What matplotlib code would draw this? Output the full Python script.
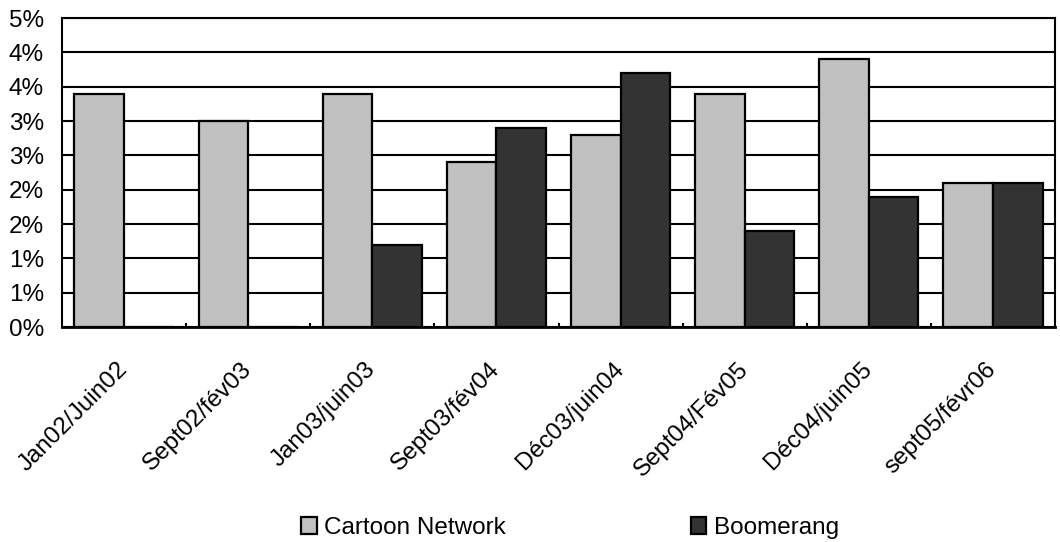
import math
import numpy as np
import matplotlib
matplotlib.use("Agg")
import matplotlib.pyplot as plt
from matplotlib.ticker import FuncFormatter, FixedLocator

plt.rcParams['font.family'] = ['Liberation Sans', 'DejaVu Sans']

periodes = ["Jan02/Juin02", "Sept02/fév03", "Jan03/juin03", "Sept03/fév04",
            "Déc03/juin04", "Sept04/Fév05", "Déc04/juin05", "sept05/févr06"]
cartoon_network = [3.4, 3.0, 3.4, 2.4, 2.8, 3.4, 3.9, 2.1]
boomerang = [0, 0, 1.2, 2.9, 3.7, 1.4, 1.9, 2.1]
y_ticks = [0, 0.5, 1, 1.5, 2, 2.5, 3, 3.5, 4, 4.5]

fs = 17.5

fig = plt.figure(figsize=(10.6, 5.42), dpi=100)
ax = fig.add_axes([62 / 1060, 1 - 327 / 542, (1055 - 62) / 1060, (327 - 18) / 542])

x = np.arange(len(periodes))
w = 0.4
ax.bar(x - w / 2, cartoon_network, w, color="#C0C0C0", edgecolor="black", linewidth=1.6,
       label="Cartoon Network", zorder=3)
ax.bar(x + w / 2, boomerang, w, color="#333333", edgecolor="black", linewidth=1.6,
       label="Boomerang", zorder=3)

ax.set_xlim(-0.5, len(periodes) - 0.5)
ax.set_ylim(0, 4.5)
ax.set_yticks(y_ticks)
ax.yaxis.set_major_formatter(FuncFormatter(lambda v, p: f"{math.floor(v + 0.5 + 1e-9):d}%"))
ax.yaxis.grid(True, color="black", linewidth=1.5, zorder=0)
ax.set_axisbelow(True)
ax.tick_params(axis="y", length=0, pad=13, labelsize=fs)

ax.set_xticks(x)
ax.set_xticklabels(periodes, rotation=45, ha="right", va="center", rotation_mode="anchor",
                   fontsize=fs)
ax.tick_params(axis="x", which="major", length=0, pad=28)
ax.xaxis.set_minor_locator(FixedLocator(np.arange(0.5, len(periodes) - 0.5, 1)))
ax.tick_params(axis="x", which="minor", direction="in", length=3, width=1.5)

for s in ax.spines.values():
    s.set_linewidth(1.5)
ax.spines["bottom"].set_linewidth(2)

fig.legend(loc="center", bbox_to_anchor=(570 / 1060, 1 - 528 / 542), ncol=2, frameon=False,
           fontsize=fs, handlelength=0.65, handleheight=0.65, handletextpad=0.3,
           columnspacing=7.6, borderpad=0)

fig.savefig("out.png", dpi=100)
